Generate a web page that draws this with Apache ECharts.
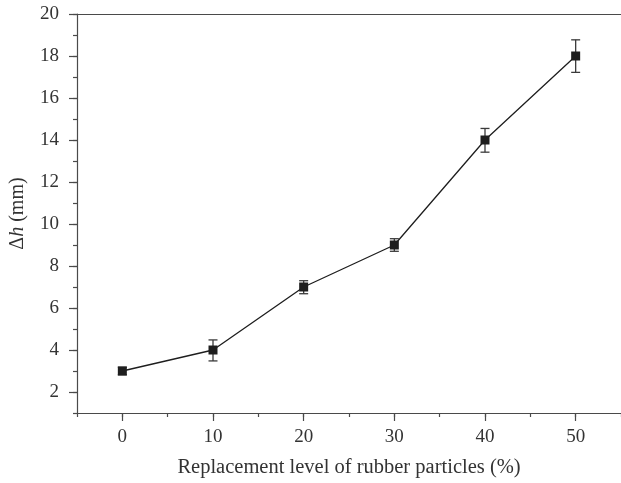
<!DOCTYPE html>
<html>
<head>
<meta charset="utf-8">
<script src="https://cdn.jsdelivr.net/npm/echarts@6/dist/echarts.min.js"></script>
<style>
html,body{margin:0;padding:0;background:#fff;}
#chart{width:621px;height:483px;}
</style>
</head>
<body>
<div id="chart"></div>
<script>
var replacement = [0, 10, 20, 30, 40, 50];
var deltaH = [3.0, 4.0, 7.0, 9.0, 14.0, 18.0];
var errUp = [0.18, 0.48, 0.3, 0.3, 0.55, 0.77];
var errDown = [0.18, 0.52, 0.32, 0.3, 0.58, 0.78];
var xTickValues = [0, 10, 20, 30, 40, 50];
var yTickValues = [2, 4, 6, 8, 10, 12, 14, 16, 18, 20];

var font = 'Liberation Serif';
var axisColor = '#4a4a4a';
var textColor = '#333';

var lineData = replacement.map(function (x, i) { return [x, deltaH[i]]; });
var errData = replacement.map(function (x, i) { return [x, deltaH[i] - errDown[i], deltaH[i] + errUp[i]]; });

var chart = echarts.init(document.getElementById('chart'), null, {renderer: 'canvas'});
chart.setOption({
  animation: false,
  backgroundColor: '#fff',
  grid: {left: 76, top: 14, width: 549, bottom: 69, show: false},
  xAxis: [{
    type: 'value', min: -5, max: 55,
    name: 'Replacement level of rubber particles (%)',
    nameLocation: 'middle', nameGap: 44,
    nameTextStyle: {fontFamily: font, fontSize: 20.5, color: textColor},
    axisLine: {show: true, onZero: false, lineStyle: {color: axisColor, width: 1.2}},
    axisTick: {show: true, length: 8, customValues: xTickValues, lineStyle: {color: axisColor, width: 1.2}},
    axisLabel: {customValues: xTickValues, fontFamily: font, fontSize: 19, color: textColor, margin: 15},
    splitLine: {show: false}
  }, {
    type: 'value', min: -5, max: 55, interval: 5, position: 'bottom',
    axisLine: {show: false, onZero: false},
    axisTick: {show: true, length: 4, lineStyle: {color: axisColor, width: 1.2}},
    axisLabel: {show: false},
    splitLine: {show: false}
  }, {
    type: 'value', min: -5, max: 55, position: 'top',
    axisLine: {show: true, onZero: false, lineStyle: {color: axisColor, width: 1.2}},
    axisTick: {show: false},
    axisLabel: {show: false},
    splitLine: {show: false}
  }],
  yAxis: [{
    type: 'value', min: 1, max: 20,
    name: '{g|Δ}{i|h}{g| (mm)}',
    nameLocation: 'middle', nameGap: 49,
    nameTextStyle: {
      rich: {
        g: {fontFamily: font, fontSize: 20, color: textColor},
        i: {fontFamily: font, fontSize: 20, fontStyle: 'italic', color: textColor}
      }
    },
    axisLine: {show: true, onZero: false, lineStyle: {color: axisColor, width: 1.2}},
    axisTick: {show: true, length: 8, customValues: yTickValues, lineStyle: {color: axisColor, width: 1.2}},
    axisLabel: {customValues: yTickValues, fontFamily: font, fontSize: 19, color: textColor, margin: 18},
    splitLine: {show: false}
  }, {
    type: 'value', min: 1, max: 20, interval: 1, position: 'left',
    axisLine: {show: false, onZero: false},
    axisTick: {show: true, length: 4, lineStyle: {color: axisColor, width: 1.2}},
    axisLabel: {show: false},
    splitLine: {show: false}
  }],
  series: [{
    type: 'line',
    xAxisIndex: 0, yAxisIndex: 0,
    data: lineData,
    symbol: 'rect', symbolSize: 9,
    itemStyle: {color: '#1e1e1e'},
    lineStyle: {color: '#1e1e1e', width: 1.3},
    z: 3
  }, {
    type: 'custom',
    xAxisIndex: 0, yAxisIndex: 0,
    data: errData,
    renderItem: function (params, api) {
      var x = api.value(0);
      var lo = api.coord([x, api.value(1)]);
      var hi = api.coord([x, api.value(2)]);
      var hw = 4.5;
      var st = {stroke: '#3a3a3a', lineWidth: 1.3};
      return {
        type: 'group',
        children: [
          {type: 'line', shape: {x1: lo[0], y1: lo[1], x2: hi[0], y2: hi[1]}, style: st},
          {type: 'line', shape: {x1: lo[0] - hw, y1: lo[1], x2: lo[0] + hw, y2: lo[1]}, style: st},
          {type: 'line', shape: {x1: hi[0] - hw, y1: hi[1], x2: hi[0] + hw, y2: hi[1]}, style: st}
        ]
      };
    },
    z: 2
  }]
});
</script>
</body>
</html>
